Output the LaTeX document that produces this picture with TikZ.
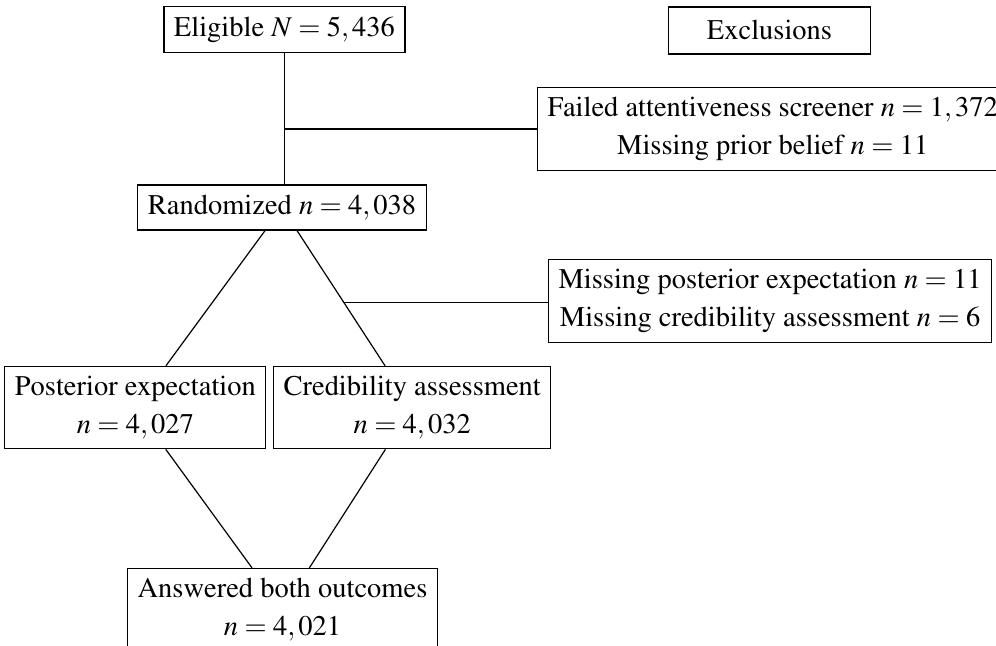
\documentclass[tikz,border=0pt]{standalone}
\usepackage[T1]{fontenc}
\usepackage{mathptmx}
\usetikzlibrary{calc}

\begin{document}
\begin{tikzpicture}[box/.style={draw, align=center, font=\fontsize{9.5}{12.5}\selectfont}]
\useasboundingbox (0,0) rectangle (11.67,-7.56);
\node[box] (eligible) at (3.333,-0.346) {Eligible $N=5,436$};
\node[box, minimum width=2.36cm, minimum height=0.55cm] (exclusions) at (9.016,-0.357) {Exclusions};
\node[box, anchor=west] (failed) at (6.292,-1.511) {Failed attentiveness screener $n=1,372$\\ Missing prior belief $n=11$};
\node[box] (randomized) at (3.304,-2.431) {Randomized $n=4,038$};
\node[box, anchor=west] (missing) at (6.421,-3.527) {Missing posterior expectation $n=11$\\ Missing credibility assessment $n=6$};
\node[box, anchor=west] (posterior) at (0.05,-4.775) {Posterior expectation\\ $n=4,027$};
\node[box] (credibility) at (4.83,-4.775) {Credibility assessment\\ $n=4,032$};
\node[box, anchor=north] (both) at (3.310,-6.655) {Answered both outcomes\\ $n=4,021$};

\draw (eligible) -- (eligible |- randomized.north); %主干
\draw (eligible.south |- failed.west) -- (failed.west);
\draw (randomized) -- (posterior);
\draw (randomized) -- (credibility);
\coordinate (split) at ($(randomized)!.475!(credibility)$);
\draw (split) -- (split -| missing.west);
\draw (posterior) -- (both);
\draw (credibility) -- (both);
\end{tikzpicture}
\end{document}
